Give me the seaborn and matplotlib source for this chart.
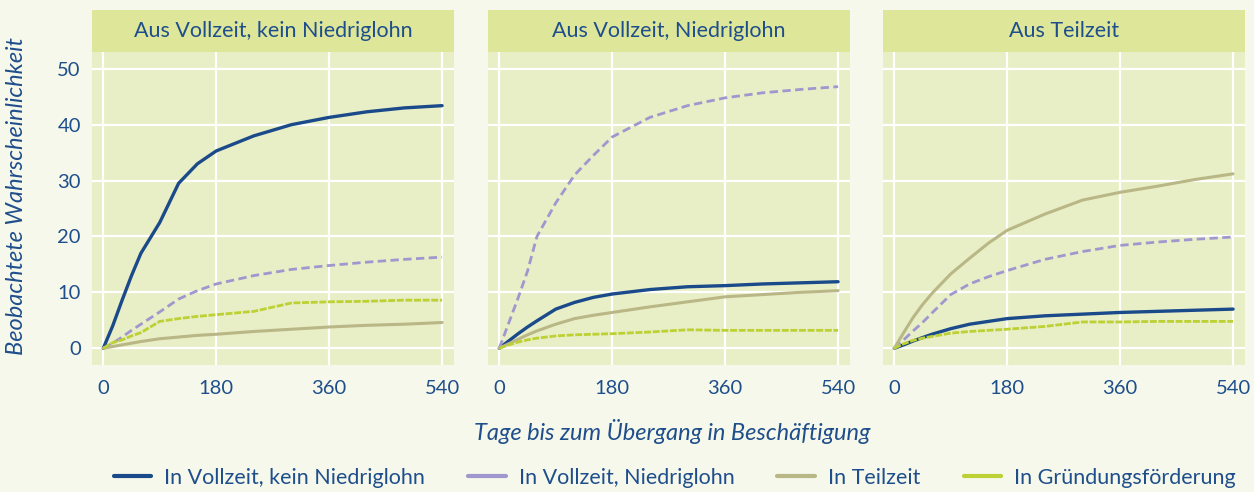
import matplotlib
matplotlib.use("Agg")
import matplotlib.pyplot as plt
from matplotlib.patches import Rectangle
from matplotlib.lines import Line2D
import pandas as pd
import seaborn as sns

# days since start
tage = [0, 15, 30, 45, 60, 90, 120, 150, 180, 240, 300, 360, 420, 480, 540]

panels = ["Aus Vollzeit, kein Niedriglohn", "Aus Vollzeit, Niedriglohn", "Aus Teilzeit"]
serien = ["In Vollzeit, kein Niedriglohn", "In Vollzeit, Niedriglohn",
          "In Teilzeit", "In Gründungsförderung"]

# Aus Vollzeit, kein Niedriglohn
p1_vz = [0, 4, 8.6, 13, 17, 22.5, 29.5, 33, 35.3, 38, 40, 41.3, 42.3, 43, 43.4]
p1_nl = [0, 0.9, 2, 3.2, 4.3, 6.5, 8.8, 10.3, 11.5, 13, 14.1, 14.8, 15.4, 15.9, 16.3]
p1_tz = [0, 0.3, 0.6, 0.9, 1.2, 1.7, 2.0, 2.3, 2.5, 3.0, 3.4, 3.8, 4.1, 4.3, 4.6]
p1_gf = [0, 1, 1.5, 2.2, 2.8, 4.8, 5.3, 5.7, 6.0, 6.6, 8.1, 8.3, 8.4, 8.6, 8.6]

# Aus Vollzeit, Niedriglohn
p2_vz = [0, 1.3, 2.6, 3.8, 4.9, 7.0, 8.2, 9.1, 9.7, 10.5, 11.0, 11.2, 11.5, 11.7, 11.9]
p2_nl = [0, 4.5, 9, 13.8, 20, 26, 31, 34.5, 37.8, 41.3, 43.4, 44.8, 45.7, 46.3, 46.8]
p2_tz = [0, 0.8, 1.6, 2.4, 3.1, 4.3, 5.3, 5.9, 6.4, 7.4, 8.3, 9.2, 9.6, 10.0, 10.3]
p2_gf = [0, 0.6, 1.1, 1.5, 1.8, 2.2, 2.4, 2.5, 2.6, 2.9, 3.3, 3.2, 3.2, 3.2, 3.2]

# Aus Teilzeit
p3_vz = [0, 0.6, 1.3, 1.9, 2.5, 3.5, 4.3, 4.8, 5.3, 5.8, 6.1, 6.4, 6.6, 6.8, 7.0]
p3_nl = [0, 1.5, 3.1, 4.6, 6.3, 9.6, 11.5, 12.8, 13.9, 15.9, 17.3, 18.4, 19, 19.5, 19.9]
p3_tz = [0, 2.8, 5.5, 7.8, 9.8, 13.3, 16.1, 18.8, 21.1, 24, 26.5, 27.9, 29, 30.2, 31.2]
p3_gf = [0, 0.8, 1.4, 1.8, 2.1, 2.7, 3.0, 3.2, 3.4, 3.9, 4.7, 4.7, 4.8, 4.8, 4.8]

werte = {
    panels[0]: [p1_vz, p1_nl, p1_tz, p1_gf],
    panels[1]: [p2_vz, p2_nl, p2_tz, p2_gf],
    panels[2]: [p3_vz, p3_nl, p3_tz, p3_gf],
}

rows = []
for p in panels:
    for s, vals in zip(serien, werte[p]):
        for t, v in zip(tage, vals):
            rows.append({"Panel": p, "Ziel": s, "Tage": t, "Wert": v})
df = pd.DataFrame(rows)

farben = {serien[0]: "#1B4A8A", serien[1]: "#A097CF",
          serien[2]: "#BAB786", serien[3]: "#BDD034"}
striche = {serien[0]: "", serien[1]: (3, 1.6), serien[2]: "", serien[3]: (2.5, 0.6)}
breiten = {serien[0]: 2.4, serien[1]: 2.0, serien[2]: 2.2, serien[3]: 2.0}

text_col = "#1F4E8C"
bg = "#F5F8EA"
plot_bg = "#E8EFC6"
strip_bg = "#DEE799"

sns.set_style("whitegrid")
plt.rcParams["font.family"] = ["Lato", "DejaVu Sans"]

fig = plt.figure(figsize=(12.54, 4.92), dpi=100, facecolor=bg)
lefts = [92, 488, 883]
axes = []
for i, p in enumerate(panels):
    ax = fig.add_axes([lefts[i] / 1254, 127 / 492, 362 / 1254, 313 / 492],
                      sharey=axes[0] if axes else None)
    axes.append(ax)
    sub = df[df["Panel"] == p]
    for s in serien:
        d = sub[sub["Ziel"] == s]
        sns.lineplot(data=d, x="Tage", y="Wert", color=farben[s], ax=ax,
                     linewidth=breiten[s], dashes=False, legend=False,
                     linestyle="-" if striche[s] == "" else (0, striche[s]))
    ax.set_facecolor(plot_bg)
    ax.set_xlim(-18, 559)
    ax.set_ylim(-3, 53)
    ax.set_xticks([0, 180, 360, 540])
    ax.set_yticks([0, 10, 20, 30, 40, 50])
    ax.grid(True, color="white", linewidth=1.6)
    for sp in ax.spines.values():
        sp.set_visible(False)
    ax.tick_params(length=0, labelsize=14.5, colors=text_col)
    ax.tick_params(axis="x", pad=11)
    ax.tick_params(axis="y", pad=8)
    ax.set_xlabel("")
    ax.set_ylabel("")
    if i > 0:
        ax.tick_params(labelleft=False)
    ax.add_patch(Rectangle((0, 1), 1, 42 / 313, transform=ax.transAxes,
                           clip_on=False, facecolor=strip_bg, edgecolor="none"))
    ax.text(0.5, 1 + 21 / 313, p, transform=ax.transAxes, ha="center",
            va="center", fontsize=15.5, color=text_col)

axes[0].set_ylabel("Beobachtete Wahrscheinlichkeit", fontsize=17,
                   style="italic", color=text_col)
axes[0].yaxis.set_label_coords(-0.18, 0.54)
fig.text(672 / 1254, 1 - 432 / 492, "Tage bis zum Übergang in Beschäftigung",
         ha="center", va="center", fontsize=17, style="italic", color=text_col)

handles = [Line2D([], [], color=farben[s], linewidth=3) for s in serien]
leg = fig.legend(handles, serien, loc="center", bbox_to_anchor=(0.538, 1 - 478 / 492),
                 ncol=4, frameon=False, fontsize=15.5, handlelength=1.75,
                 columnspacing=2.0, handletextpad=0.6)
for t in leg.get_texts():
    t.set_color(text_col)

fig.savefig("out.png", dpi=100, facecolor=bg)
